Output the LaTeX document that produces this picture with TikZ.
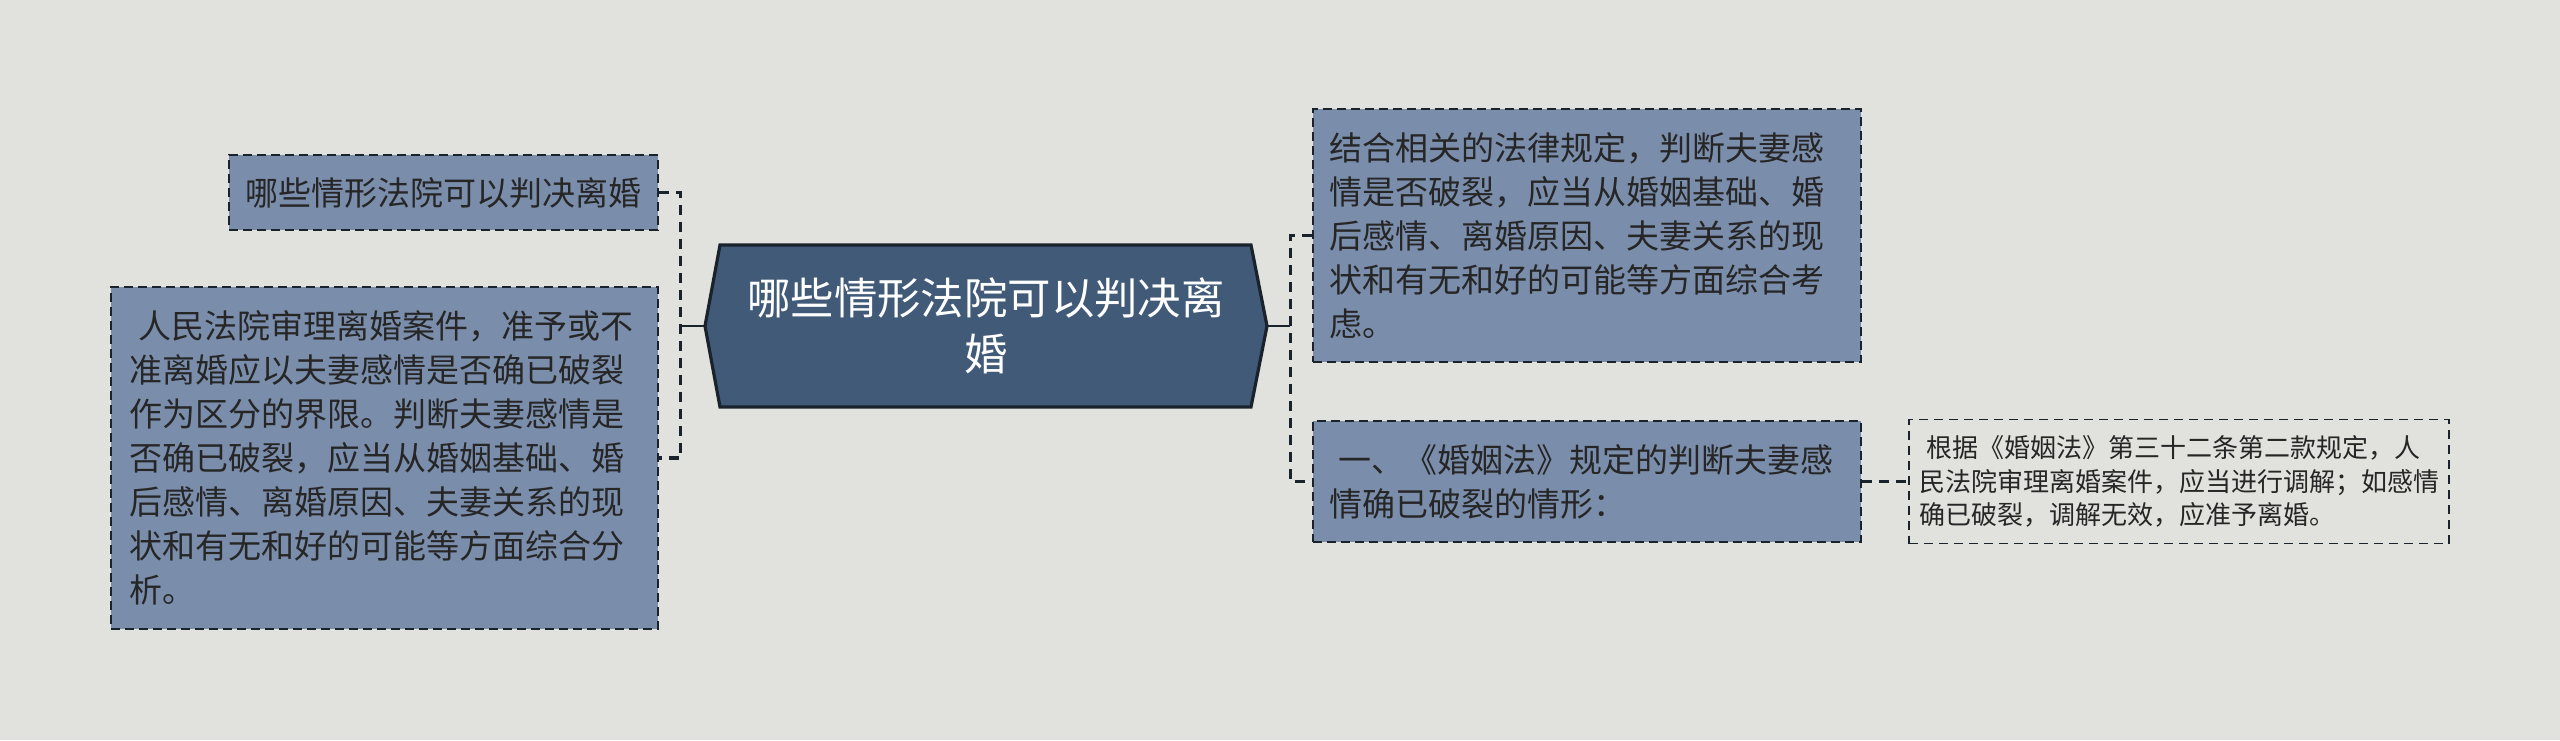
\documentclass[tikz,border=0pt]{standalone}
\usepackage{fontspec}
\setmainfont{Noto Sans CJK SC}
\definecolor{bg}{HTML}{E1E2DD}
\definecolor{boxfill}{HTML}{7A8EAC}
\definecolor{hubfill}{HTML}{415A78}
\definecolor{ink}{HTML}{262626}
\definecolor{edge}{HTML}{1A222C}
\tikzset{
  leafbox/.style={draw=edge, line width=1pt, dash pattern=on 4.5pt off 2.5pt,
    fill=boxfill, text=ink, font=\fontsize{16.5}{22}\selectfont,
    inner ysep=0pt, anchor=center},
  notebox/.style={draw=edge, line width=0.9pt, dash pattern=on 4.5pt off 3pt,
    text=ink, font=\fontsize{13}{16.75}\selectfont, align=left,
    inner ysep=0pt, anchor=center},
  hubtext/.style={text=white, font=\fontsize{21.7}{27.75}\selectfont, align=center,
    minimum width=281pt, minimum height=81pt, inner sep=0pt},
  link/.style={draw=edge, line width=1.7pt, dash pattern=on 5pt off 3.5pt},
  stub/.style={draw=edge, line width=1.4pt}
}
\begin{document}
\begin{tikzpicture}[x=0.5pt,y=-0.5pt]
\fill[bg] (0,0) rectangle (2560,740);
\useasboundingbox (0,0) rectangle (2560,740);

% central hexagon
\fill[hubfill, draw=edge, line width=1.6pt]
  (705,326) -- (720,245) -- (1251,245) -- (1267,326) -- (1251,407) -- (720,407) -- cycle;
\node[hubtext] (hub) at (986,326) {哪些情形法院可以判决离\\婚};

% left boxes
\node[leafbox, align=center, minimum width=214.5pt, minimum height=37.5pt, inner xsep=0pt]
  (a) at (443.5,192.5) {哪些情形法院可以判决离婚};
\node[leafbox, align=left, text width=255.5pt, inner xsep=9pt, minimum height=171pt]
  (b) at (384.5,458) {\hspace{0.3em}人民法院审理离婚案件，准予或不\\准离婚应以夫妻感情是否确已破裂\\作为区分的界限。判断夫妻感情是\\否确已破裂，应当从婚姻基础、婚\\后感情、离婚原因、夫妻关系的现\\状和有无和好的可能等方面综合分\\析。};

% right boxes
\node[leafbox, align=left, text width=258pt, inner xsep=8pt, minimum height=126.5pt]
  (c) at (1587,235.5) {结合相关的法律规定，判断夫妻感\\情是否破裂，应当从婚姻基础、婚\\后感情、离婚原因、夫妻关系的现\\状和有无和好的可能等方面综合考\\虑。};
\node[leafbox, align=left, text width=258pt, inner xsep=8pt, minimum height=60.5pt]
  (d) at (1587,481.5) {\hspace{0.3em}一、《婚姻法》规定的判断夫妻感\\情确已破裂的情形：};
\node[notebox, text width=260pt, inner xsep=5pt, minimum height=62pt]
  (e) at (2179,481.5) {\hspace{0.3em}根据《婚姻法》第三十二条第二款规定，人\\民法院审理离婚案件，应当进行调解；如感情\\确已破裂，调解无效，应准予离婚。};

% connectors
\draw[stub] (hub.west) -- ++(-24,0) coordinate (lj);
\draw[link] (a.east) -| (lj) |- (b.east);
\draw[stub] (hub.east) -- ++(23,0) coordinate (rj);
\draw[link] (c.west) -| (rj) |- (d.west);
\draw[link] (d.east) -- (e.west);
\end{tikzpicture}
\end{document}
